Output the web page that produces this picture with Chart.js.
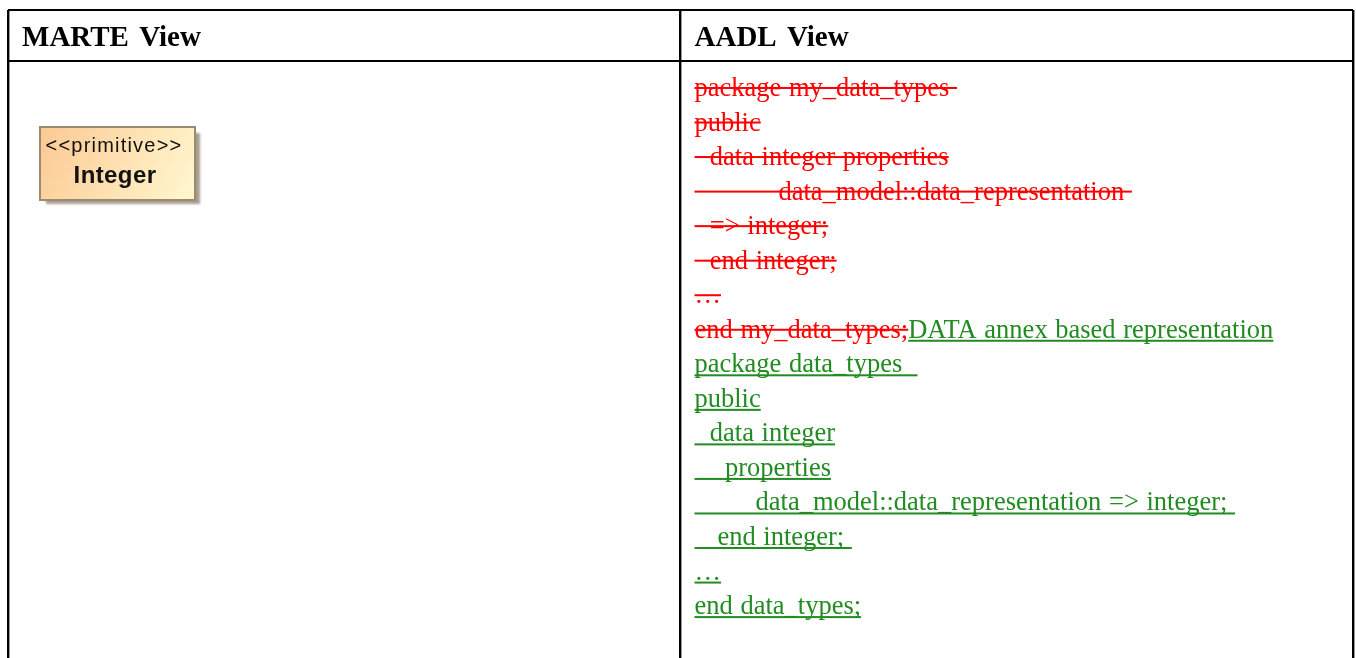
<!DOCTYPE html>
<html>
<head>
<meta charset="utf-8">
<title>MARTE View / AADL View</title>
<script src="https://cdn.jsdelivr.net/npm/chart.js@4"></script>
<style>
    html, body { margin: 0; padding: 0; background: #ffffff; }
    canvas { display: block; }
</style>
</head>
<body>
<canvas id="viewTable" width="1356" height="658"></canvas>
<script>
const columnTitles = ['MARTE View', 'AADL View'];
const umlStereotype = '<<primitive>>';
const umlName = 'Integer';

// \u00a0 runs are the indents of the source text
const removedLines = [
    'package my_data_types\u00a0',
    'public',
    '\u00a0\u00a0data integer properties',
    '\u00a0\u00a0\u00a0\u00a0\u00a0\u00a0\u00a0\u00a0\u00a0\u00a0\u00a0data_model::data_representation\u00a0',
    '\u00a0\u00a0=> integer;',
    '\u00a0\u00a0end integer;',
    '\u2026',
    'end my_data_types;'
];
const addedLines = [
    'DATA annex based representation',
    'package data_types\u00a0\u00a0',
    'public',
    '\u00a0\u00a0data integer',
    '\u00a0\u00a0\u00a0\u00a0properties',
    '\u00a0\u00a0\u00a0\u00a0\u00a0\u00a0\u00a0\u00a0data_model::data_representation => integer;\u00a0',
    '\u00a0\u00a0\u00a0end integer;\u00a0',
    '\u2026',
    'end data_types;'
];

const RED = '#ff0000';
const GREEN = '#228b22';
const BODY_FONT = '26.5px "Liberation Serif"';
const HEAD_FONT = 'bold 29px "Liberation Serif"';

document.addEventListener('DOMContentLoaded', () => {
    const tablePlugin = {
        id: 'tablePlugin',
        afterDraw(chart) {
            const ctx = chart.ctx;
            const xs = chart.scales.x;
            const ys = chart.scales.y;
            const textLeft = xs.getPixelForValue(686);

            function drawLine(text, x, row, color, lineOffset) {
                const base = ys.getPixelForValue(row);
                ctx.fillStyle = color;
                ctx.fillText(text, x, base + 1);
                const w = ctx.measureText(text).width;
                ctx.fillRect(x, base + lineOffset, w, 2);
                return x + w;
            }

            ctx.save();
            ctx.textBaseline = 'alphabetic';
            ctx.textAlign = 'left';

            ctx.font = HEAD_FONT;
            ctx.fillStyle = '#000000';
            ctx.wordSpacing = '3px';
            ctx.fillText(columnTitles[0], xs.getPixelForValue(14), ys.getPixelForValue(-1.43));
            ctx.fillText(columnTitles[1], textLeft, ys.getPixelForValue(-1.43));

            ctx.font = BODY_FONT;
            ctx.wordSpacing = '1px';
            let lastEnd = textLeft;
            removedLines.forEach((text, i) => {
                lastEnd = drawLine(text, textLeft, i, RED, -8);
            });
            addedLines.forEach((text, i) => {
                const x = i === 0 ? lastEnd : textLeft;
                drawLine(text, x, removedLines.length - 1 + i, GREEN, 3);
            });

            // UML class box
            ctx.save();
            ctx.filter = 'blur(1px)';
            ctx.fillStyle = '#a89f94';
            ctx.fillRect(46, 133, 154, 71);
            ctx.restore();
            const grad = ctx.createLinearGradient(40, 127, 195, 200);
            grad.addColorStop(0, '#fcc993');
            grad.addColorStop(1, '#fff8d0');
            ctx.fillStyle = grad;
            ctx.fillRect(40, 127, 155, 73);
            ctx.strokeStyle = '#9c8a70';
            ctx.lineWidth = 2;
            ctx.strokeRect(40, 127, 155, 73);

            ctx.filter = 'blur(0.6px)';
            ctx.wordSpacing = '0px';
            ctx.textAlign = 'center';
            ctx.fillStyle = '#111111';
            ctx.font = '20px "Liberation Sans"';
            ctx.letterSpacing = '1.2px';
            ctx.fillText(umlStereotype, 114, 152);
            ctx.font = 'bold 24px "Liberation Sans"';
            ctx.letterSpacing = '0.4px';
            ctx.fillText(umlName, 115, 183);
            ctx.restore();
        }
    };

    new Chart(document.getElementById('viewTable'), {
        type: 'scatter',
        data: { datasets: [] },
        plugins: [tablePlugin],
        options: {
            responsive: false,
            animation: false,
            layout: { padding: { left: 8, top: 10, right: 3, bottom: 0 } },
            plugins: { legend: { display: false }, tooltip: { enabled: false } },
            scales: {
                x: {
                    type: 'linear',
                    min: 0,
                    max: 1344,
                    afterBuildTicks: (axis) => { axis.ticks = [{ value: 0 }, { value: 672 }, { value: 1344 }]; },
                    ticks: { display: false },
                    grid: { color: '#000000', lineWidth: 2.4, drawTicks: false },
                    border: { display: false }
                },
                y: {
                    type: 'linear',
                    reverse: true,
                    min: -2.46,
                    max: 16.3,
                    afterBuildTicks: (axis) => { axis.ticks = [{ value: -2.46 }, { value: -0.98 }]; },
                    ticks: { display: false },
                    grid: { color: '#000000', lineWidth: 2, drawTicks: false },
                    border: { display: false }
                }
            }
        }
    });
});
</script>
</body>
</html>
